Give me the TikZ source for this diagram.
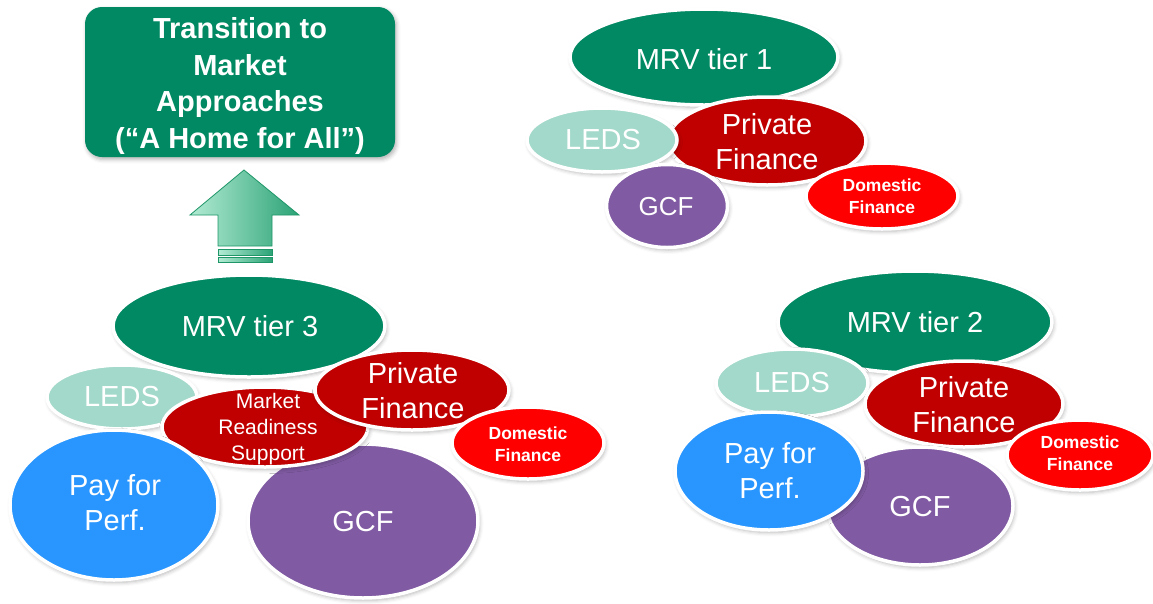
\documentclass[tikz,border=0pt]{standalone}
\usepackage{fontspec}
\setmainfont{Liberation Sans}
\usetikzlibrary{shapes.geometric,shadows.blur}
\definecolor{cgreen}{RGB}{0,137,98}
\definecolor{cteal}{RGB}{163,217,202}
\definecolor{cdred}{RGB}{192,0,0}
\definecolor{cred}{RGB}{255,0,0}
\definecolor{cpurple}{RGB}{128,90,162}
\definecolor{cblue}{RGB}{41,150,255}
\definecolor{arlight}{RGB}{178,235,212}
\definecolor{ardark}{RGB}{44,163,118}
\definecolor{arline}{RGB}{30,150,104}
\tikzset{
  shad/.style={blur shadow={shadow xshift=1.5pt, shadow yshift=-2.5pt, shadow blur radius=4pt, shadow opacity=30}},
  blob/.style={ellipse, draw=white, line width=3.5pt, inner sep=0pt, shad},
  txt/.style={text=white, font=\fontsize{29}{35}\selectfont, align=center, inner sep=0pt},
  smtxt/.style={text=white, font=\fontsize{21}{26}\selectfont, align=center, inner sep=0pt},
  domtxt/.style={text=white, font=\fontsize{17.5}{21.5}\selectfont\bfseries, align=center, inner sep=0pt},
  boxtxt/.style={text=white, font=\fontsize{29}{36.5}\selectfont\bfseries, align=center, inner sep=0pt},
  arrowfill/.style={left color=arlight, right color=ardark, draw=arline, line width=0.8pt}
}
\begin{document}
\begin{tikzpicture}[x=1pt,y=-1pt]
\useasboundingbox (0,0) rectangle (1153,603);

% Top box
\node[fill=cgreen, rounded corners=17pt, minimum width=310pt, minimum height=150pt, inner sep=0pt, shad] (box) at (240,82) {};
\node[boxtxt] (boxt) at (240,86) {Transition to\\Market\\Approaches\\(“A Home for All”)};

% Arrow
\coordinate (atip) at (244,170);
\path[arrowfill] (atip) -- (299,215) -- (272,215) -- (272,246) -- (218,246) -- (218,215) -- (190,215) -- cycle;
\path[arrowfill] (218,249) rectangle (272,255);
\path[arrowfill] (218,257.5) rectangle (272,262);

% Group 1
\node[blob, fill=cgreen, minimum width=268pt, minimum height=96pt] (g1mrv) at (704,57) {};
\node[txt] (g1mrvt) at (704,59) {MRV tier 1};
\node[blob, fill=cdred, minimum width=198pt, minimum height=88pt] (g1pf) at (767,141) {};
\node[txt] (g1pft) at (767,142) {Private\\Finance};
\node[blob, fill=cteal, minimum width=150pt, minimum height=64pt] (g1leds) at (602,140) {};
\node[txt] (g1ledst) at (603,140) {LEDS};
\node[blob, fill=cpurple, minimum width=121pt, minimum height=83pt] (g1gcf) at (667,206) {};
\node[txt, font=\fontsize{26}{30}\selectfont] (g1gcft) at (666,207) {GCF};
\node[blob, fill=cred, minimum width=152pt, minimum height=66pt] (g1dom) at (882,196) {};
\node[domtxt] (g1domt) at (882,196) {Domestic\\Finance};

% Group 2
\node[blob, fill=cgreen, minimum width=274pt, minimum height=102pt] (g2mrv) at (915,322) {};
\node[txt] (g2mrvt) at (915,322) {MRV tier 2};
\node[blob, fill=cteal, minimum width=152pt, minimum height=68pt] (g2leds) at (792,383) {};
\node[txt] (g2ledst) at (792,383) {LEDS};
\node[blob, fill=cdred, minimum width=198pt, minimum height=86pt] (g2pf) at (964,404) {};
\node[txt] (g2pft) at (964,405) {Private\\Finance};
\node[blob, fill=cred, minimum width=146pt, minimum height=70pt] (g2dom) at (1080,455) {};
\node[domtxt] (g2domt) at (1080,453) {Domestic\\Finance};
\node[blob, fill=cpurple, minimum width=186pt, minimum height=118pt] (g2gcf) at (920,506) {};
\node[txt] (g2gcft) at (920,507) {GCF};
\node[blob, fill=cblue, minimum width=188pt, minimum height=118pt] (g2pay) at (769,471) {};
\node[txt] (g2payt) at (770,471) {Pay for\\Perf.};

% Group 3
\node[blob, fill=cgreen, minimum width=272pt, minimum height=102pt] (g3mrv) at (249,326) {};
\node[txt] (g3mrvt) at (250,326) {MRV tier 3};
\node[blob, fill=cteal, minimum width=150pt, minimum height=64pt] (g3leds) at (122,397) {};
\node[txt] (g3ledst) at (122,397) {LEDS};
\node[blob, fill=cpurple, minimum width=230pt, minimum height=154pt] (g3gcf) at (363,521) {};
\node[txt] (g3gcft) at (363,522) {GCF};
\node[blob, fill=cdred, minimum width=206pt, minimum height=80pt] (g3mr) at (265,427) {};
\node[smtxt] (g3mrt) at (268,429) {Market\\Readiness\\Support};
\node[blob, fill=cdred, minimum width=194pt, minimum height=80pt] (g3pf) at (412,390) {};
\node[txt] (g3pft) at (413,391) {Private\\Finance};
\node[blob, fill=cblue, minimum width=208pt, minimum height=150pt] (g3pay) at (114,505) {};
\node[txt] (g3payt) at (115,503) {Pay for\\Perf.};
\node[blob, fill=cred, minimum width=152pt, minimum height=72pt] (g3dom) at (528,443) {};
\node[domtxt] (g3domt) at (528,444) {Domestic\\Finance};
\end{tikzpicture}
\end{document}
